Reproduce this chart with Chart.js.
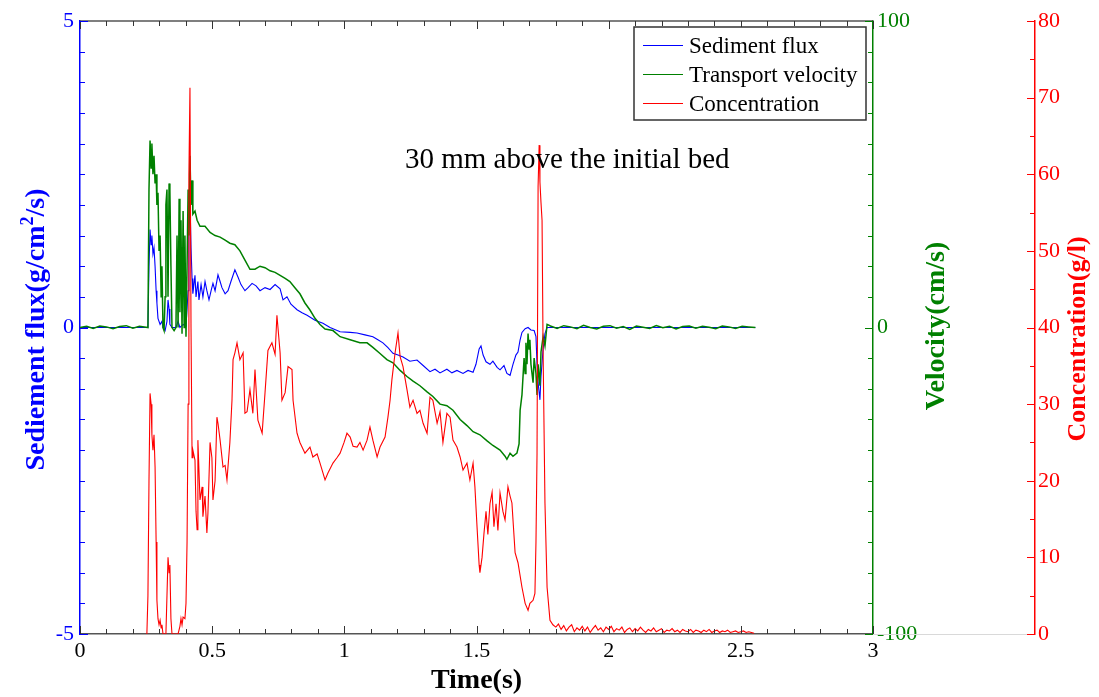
<!DOCTYPE html>
<html>
<head>
<meta charset="utf-8">
<title>Sediment flux, transport velocity and concentration</title>
<script src="https://cdn.jsdelivr.net/npm/chart.js@4.4.1/dist/chart.umd.min.js"></script>
<style>
  html, body { margin: 0; padding: 0; background: #fff; }
  #wrap { width: 1099px; height: 697px; position: relative; }
</style>
</head>
<body>
<div id="wrap"><canvas id="fluxChart"></canvas></div>
<script>
// Sediment flux (g/cm2/s) against time (s)
const tFlux = [0, 0.1, 0.2, 0.257, 0.261, 0.265, 0.269, 0.272, 0.276, 0.28, 0.284, 0.288, 0.291, 0.295, 0.303, 0.31, 0.314, 0.322, 0.329, 0.333, 0.337, 0.34, 0.348, 0.363, 0.371, 0.378, 0.39, 0.401, 0.409, 0.412, 0.416, 0.42, 0.424, 0.427, 0.435, 0.439, 0.446, 0.45, 0.458, 0.465, 0.473, 0.48, 0.488, 0.496, 0.503, 0.511, 0.522, 0.53, 0.537, 0.549, 0.56, 0.571, 0.586, 0.598, 0.609, 0.624, 0.636, 0.651, 0.666, 0.681, 0.7, 0.719, 0.738, 0.757, 0.768, 0.783, 0.798, 0.821, 0.84, 0.859, 0.889, 0.919, 0.946, 0.984, 1.022, 1.048, 1.078, 1.108, 1.127, 1.146, 1.165, 1.184, 1.203, 1.222, 1.248, 1.275, 1.298, 1.324, 1.343, 1.362, 1.388, 1.407, 1.426, 1.449, 1.468, 1.487, 1.498, 1.51, 1.517, 1.525, 1.536, 1.551, 1.562, 1.578, 1.589, 1.604, 1.615, 1.627, 1.638, 1.649, 1.657, 1.665, 1.672, 1.684, 1.695, 1.706, 1.718, 1.725, 1.729, 1.733, 1.74, 1.744, 1.752, 1.759, 1.767, 2.0, 2.3, 2.555];
const flux = [0, 0, 0, 0, 1.0, 1.6, 1.35, 1.5, 1.2, 1.3, 1.0, 0.6, 0.4, 0.15, 0.05, 0.1, 0, -0.05, 0.1, 0.45, 0.3, 0.05, 0, 0, 0.1, 0, 0.05, 0.02, 0.6, 1.5, 2.1, 1.3, 0.8, 0.55, 0.85, 0.5, 0.75, 0.45, 0.7, 0.5, 0.75, 0.6, 0.45, 0.6, 0.72, 0.6, 0.86, 0.75, 0.65, 0.55, 0.6, 0.75, 0.94, 0.82, 0.7, 0.6, 0.65, 0.72, 0.68, 0.6, 0.65, 0.62, 0.7, 0.63, 0.45, 0.5, 0.38, 0.29, 0.24, 0.2, 0.12, 0.07, 0, -0.07, -0.08, -0.09, -0.12, -0.15, -0.2, -0.25, -0.33, -0.42, -0.45, -0.48, -0.55, -0.53, -0.62, -0.72, -0.68, -0.74, -0.68, -0.74, -0.7, -0.75, -0.7, -0.73, -0.6, -0.35, -0.3, -0.45, -0.56, -0.6, -0.55, -0.65, -0.69, -0.62, -0.75, -0.78, -0.6, -0.45, -0.4, -0.2, -0.08, -0.02, 0, -0.04, -0.05, -0.15, -0.6, -0.9, -1.18, -0.8, -0.35, -0.1, 0, 0, 0, 0];

// Transport velocity (cm/s)
const tVel = [0, 0.025, 0.05, 0.075, 0.1, 0.125, 0.15, 0.175, 0.2, 0.225, 0.25, 0.257, 0.261, 0.265, 0.269, 0.272, 0.276, 0.28, 0.284, 0.288, 0.291, 0.295, 0.299, 0.303, 0.307, 0.31, 0.314, 0.318, 0.322, 0.325, 0.329, 0.333, 0.337, 0.34, 0.344, 0.348, 0.356, 0.363, 0.367, 0.371, 0.375, 0.378, 0.382, 0.386, 0.39, 0.394, 0.397, 0.401, 0.405, 0.409, 0.412, 0.416, 0.42, 0.424, 0.427, 0.435, 0.443, 0.454, 0.473, 0.492, 0.511, 0.53, 0.549, 0.567, 0.586, 0.605, 0.624, 0.643, 0.662, 0.681, 0.7, 0.719, 0.738, 0.757, 0.776, 0.794, 0.813, 0.832, 0.851, 0.87, 0.889, 0.908, 0.927, 0.957, 0.984, 1.022, 1.059, 1.086, 1.108, 1.135, 1.161, 1.184, 1.211, 1.237, 1.26, 1.286, 1.313, 1.335, 1.362, 1.388, 1.411, 1.438, 1.464, 1.487, 1.513, 1.54, 1.562, 1.589, 1.608, 1.615, 1.627, 1.638, 1.653, 1.661, 1.665, 1.672, 1.68, 1.684, 1.687, 1.691, 1.695, 1.699, 1.702, 1.706, 1.714, 1.718, 1.725, 1.729, 1.733, 1.74, 1.744, 1.752, 1.759, 1.767, 1.78, 1.805, 1.83, 1.855, 1.88, 1.905, 1.93, 1.955, 1.98, 2.005, 2.03, 2.055, 2.08, 2.105, 2.13, 2.155, 2.18, 2.205, 2.23, 2.255, 2.28, 2.305, 2.33, 2.355, 2.38, 2.405, 2.43, 2.455, 2.48, 2.505, 2.53, 2.555];
const vel = [0, 0.4, -0.3, 0.5, 0.2, -0.4, 0.3, 0.6, -0.2, 0.4, 0.1, 0, 45, 61, 52, 60, 50, 56, 47, 50, 40, 44, 25, 30, 10, 20, 0, -1, 10, 40, 45, 10, 47, 45, 20, 0, -1, 0, 30, 0, 42, 5, 35, -2, 38, 0, 30, -3, 20, 45, 30, 56, 40, 48, 37, 38, 35, 33, 33, 31, 30, 29.5, 28.5, 27.5, 27, 25, 22, 19, 19, 20, 19.5, 18.5, 18, 17, 16, 15, 13, 11, 8, 5.7, 3, 1, -0.5, -1, -3, -4, -5, -5, -6.5, -8.5, -10.5, -11.5, -14, -16, -17.5, -19, -21, -22.5, -25, -25.5, -27, -30, -32, -34, -35, -37, -38.5, -40, -42, -43, -41, -42, -41, -38, -27, -22, -10, -15, -5, -12, -2, -7, -4, -12, -18, -10, -15, -22, -12, -19, -8, -3, -6, 1, 0.5, -0.3, 0.6, 0.2, -0.4, 0.7, 0, -0.5, 0.4, 0.6, -0.2, 0.3, -0.6, 0.5, 0.1, -0.3, 0.6, -0.1, 0.4, -0.5, 0.3, 0.5, -0.2, 0.4, 0.1, -0.4, 0.5, 0.2, -0.3, 0.4, 0.2, 0];

// Concentration (g/l)
const tConc = [0.253, 0.257, 0.261, 0.265, 0.269, 0.272, 0.276, 0.28, 0.284, 0.288, 0.291, 0.295, 0.299, 0.303, 0.307, 0.31, 0.314, 0.325, 0.329, 0.333, 0.337, 0.34, 0.344, 0.348, 0.371, 0.378, 0.382, 0.386, 0.39, 0.397, 0.401, 0.405, 0.409, 0.412, 0.416, 0.42, 0.424, 0.427, 0.435, 0.439, 0.443, 0.446, 0.454, 0.462, 0.465, 0.473, 0.48, 0.484, 0.492, 0.499, 0.503, 0.511, 0.518, 0.522, 0.53, 0.541, 0.549, 0.556, 0.567, 0.575, 0.579, 0.586, 0.594, 0.605, 0.617, 0.624, 0.632, 0.643, 0.654, 0.662, 0.673, 0.689, 0.7, 0.711, 0.726, 0.738, 0.745, 0.757, 0.764, 0.776, 0.787, 0.802, 0.806, 0.821, 0.832, 0.851, 0.87, 0.881, 0.897, 0.908, 0.927, 0.938, 0.957, 0.972, 0.984, 0.999, 1.01, 1.022, 1.033, 1.048, 1.059, 1.071, 1.086, 1.097, 1.108, 1.124, 1.135, 1.154, 1.165, 1.173, 1.18, 1.192, 1.203, 1.211, 1.222, 1.237, 1.248, 1.26, 1.275, 1.286, 1.298, 1.313, 1.324, 1.335, 1.351, 1.362, 1.373, 1.388, 1.4, 1.411, 1.426, 1.438, 1.449, 1.464, 1.475, 1.487, 1.494, 1.502, 1.51, 1.513, 1.521, 1.528, 1.536, 1.543, 1.551, 1.559, 1.566, 1.574, 1.581, 1.589, 1.6, 1.608, 1.619, 1.627, 1.634, 1.646, 1.657, 1.672, 1.684, 1.695, 1.702, 1.714, 1.721, 1.725, 1.729, 1.733, 1.737, 1.74, 1.744, 1.748, 1.752, 1.759, 1.767, 1.778, 1.789, 1.8, 1.81, 1.82, 1.83, 1.84, 1.85, 1.86, 1.87, 1.88, 1.89, 1.9, 1.91, 1.92, 1.93, 1.94, 1.95, 1.96, 1.97, 1.98, 1.99, 2.0, 2.01, 2.02, 2.03, 2.04, 2.05, 2.06, 2.07, 2.08, 2.09, 2.1, 2.11, 2.12, 2.13, 2.14, 2.15, 2.16, 2.17, 2.18, 2.19, 2.2, 2.21, 2.22, 2.23, 2.24, 2.25, 2.26, 2.27, 2.28, 2.29, 2.3, 2.31, 2.32, 2.33, 2.34, 2.35, 2.36, 2.37, 2.38, 2.39, 2.4, 2.41, 2.42, 2.43, 2.44, 2.45, 2.46, 2.47, 2.48, 2.49, 2.5, 2.51, 2.52, 2.53, 2.54, 2.55];
const conc = [0, 5, 20, 31.4, 30, 26, 24, 26, 21.8, 12, 4.4, 2, 1.2, 1.8, 0.8, 1.2, 0, 0, 5, 10, 8, 9, 2, 0, 0, 1, 2, 1.2, 2.2, 2, 4, 12, 30, 60, 71.3, 40, 23, 24, 22.7, 16, 13.6, 25.3, 17.5, 19.2, 15.3, 18, 13.2, 15.8, 25, 23, 17.5, 20, 28.3, 27.5, 25.3, 21.8, 22, 20.1, 25, 30.5, 35.8, 36.7, 38, 35.8, 36.7, 28.8, 29, 31.9, 28.8, 34.5, 27.9, 26.2, 31.5, 37, 38, 36.5, 41.6, 36.7, 30.5, 31.5, 34.9, 34.5, 30.5, 26.2, 25, 23.6, 24.4, 23.1, 23.5, 22.3, 20.1, 21, 22.3, 23, 23.6, 25, 26.2, 25.7, 24.5, 24.4, 25, 24, 25.3, 27, 25.3, 23.1, 24.4, 25.7, 28.3, 30.5, 33.2, 36.7, 39.3, 36.2, 34.9, 31.9, 29.6, 30.5, 28.8, 29.2, 27.5, 26.2, 30.9, 30.5, 27.5, 29, 25, 28.8, 28.3, 25.3, 24.4, 23.1, 21.4, 22.3, 20.1, 22.3, 19.2, 14, 9, 8, 10, 13, 16, 13, 17, 18.5, 14, 17, 13.5, 18.4, 16, 14.9, 19.2, 18, 17.1, 10.6, 9.3, 6.1, 4, 3.1, 4, 4.4, 5.3, 12, 23.6, 58.4, 63.8, 59, 56.3, 54, 36.7, 17.1, 6.1, 1.8, 1.2, 0.9, 1.3, 0.6, 1.1, 0.4, 0.9, 1.2, 0.3, 0.8, 0.5, 1.0, 0.4, 0.9, 0.2, 0.7, 1.1, 0.5, 0.8, 0.3, 0.9, 0.6, 1.0, 0.3, 0.7, 0.5, 0.9, 0.2, 0.6, 0.8, 0.3, 0.7, 0.4, 0.9, 0.5, 0.2, 0.6, 0.4, 0.8, 0.3, 0.5, 0.7, 0.2, 0.5, 0.4, 0.7, 0.3, 0.5, 0.2, 0.6, 0.4, 0.3, 0.6, 0.2, 0.5, 0.4, 0.2, 0.5, 0.3, 0.6, 0.2, 0.4, 0.5, 0.2, 0.4, 0.3, 0.5, 0.2, 0.3, 0.4, 0.2, 0.3, 0.4, 0.2, 0.3, 0.2, 0.1];

// axis ranges
const timeRange = [0, 3];
const fluxRange = [-5, 5];
const velRange = [-100, 100];
const concRange = [0, 80];

const BLUE = '#0000ff';
const GREEN = '#008000';
const RED = '#ff0000';
const SERIF = '"Liberation Serif", "Times New Roman", serif';

Chart.defaults.font.family = SERIF;
Chart.defaults.color = '#000';

function pts(xs, ys) {
    return xs.map((x, i) => ({ x: x, y: ys[i] }));
}

// plain number labels: 1 rather than 1.0
function plainLabel(value) {
    return String(parseFloat(Number(value).toFixed(2)));
}

// tick marks pointing into the plot
function drawTicks(ctx, scale, from, to, step, majorEvery, x0, y0, dir, horizontal, color) {
    ctx.strokeStyle = color;
    ctx.lineWidth = 1;
    const n = Math.round((to - from) / step);
    for (let i = 0; i <= n; i++) {
        const v = from + i * step;
        const p = Math.round(scale.getPixelForValue(v)) + 0.5;
        const len = (i % majorEvery === 0) ? 8 : 5;
        ctx.beginPath();
        if (horizontal) {
            ctx.moveTo(p, y0);
            ctx.lineTo(p, y0 + dir * len);
        } else {
            ctx.moveTo(x0, p);
            ctx.lineTo(x0 + dir * len, p);
        }
        ctx.stroke();
    }
}

const axisDecor = {
    id: 'axisDecor',
    afterDraw(chart) {
        const ctx = chart.ctx;
        const a = chart.chartArea;
        const sx = chart.scales.x, sf = chart.scales.yFlux, sv = chart.scales.yVel, sc = chart.scales.yConc;
        ctx.save();

        // top frame
        ctx.strokeStyle = '#555';
        ctx.lineWidth = 1.5;
        ctx.beginPath();
        ctx.moveTo(a.left, a.top);
        ctx.lineTo(a.right, a.top);
        ctx.stroke();
        // faint base line under the right axes
        ctx.strokeStyle = '#d9d9d9';
        ctx.lineWidth = 1;
        ctx.beginPath();
        ctx.moveTo(a.right, a.bottom + 0.5);
        ctx.lineTo(sc.left, a.bottom + 0.5);
        ctx.stroke();

        drawTicks(ctx, sx, 0, 3, 0.1, 5, 0, a.bottom, -1, true, '#333');
        drawTicks(ctx, sx, 0, 3, 0.1, 5, 0, a.top, 1, true, '#333');
        drawTicks(ctx, sf, -5, 5, 0.5, 10, a.left, 0, 1, false, BLUE);
        drawTicks(ctx, sv, -100, 100, 10, 10, a.right, 0, -1, false, GREEN);
        drawTicks(ctx, sc, 0, 80, 5, 2, sc.left, 0, -1, false, RED);

        // axis titles
        ctx.font = 'bold 28px ' + SERIF;
        ctx.fillStyle = '#000';
        ctx.textAlign = 'center';
        ctx.textBaseline = 'middle';
        ctx.fillText('Time(s)', (a.left + a.right) / 2, 681);

        // left title with the superscript in cm2
        const p1 = 'Sediement flux(g/cm', p2 = '2', p3 = '/s)';
        ctx.save();
        ctx.translate(44, (a.top + a.bottom) / 2 + 2);
        ctx.rotate(-Math.PI / 2);
        ctx.fillStyle = BLUE;
        ctx.textAlign = 'left';
        ctx.textBaseline = 'alphabetic';
        ctx.font = 'bold 28px ' + SERIF;
        const w1 = ctx.measureText(p1).width, w3 = ctx.measureText(p3).width;
        ctx.font = 'bold 18px ' + SERIF;
        const w2 = ctx.measureText(p2).width;
        let x = -(w1 + w2 + w3) / 2;
        ctx.font = 'bold 28px ' + SERIF;
        ctx.fillText(p1, x, 0);
        x += w1;
        ctx.font = 'bold 18px ' + SERIF;
        ctx.fillText(p2, x, -11);
        x += w2;
        ctx.font = 'bold 28px ' + SERIF;
        ctx.fillText(p3, x, 0);
        ctx.restore();

        ctx.save();
        ctx.translate(937, 326);
        ctx.rotate(-Math.PI / 2);
        ctx.fillStyle = GREEN;
        ctx.textAlign = 'center';
        ctx.textBaseline = 'middle';
        ctx.font = 'bold 28px ' + SERIF;
        ctx.fillText('Velocity(cm/s)', 0, 0);
        ctx.restore();

        ctx.save();
        ctx.translate(1078, 339);
        ctx.rotate(-Math.PI / 2);
        ctx.fillStyle = RED;
        ctx.textAlign = 'center';
        ctx.textBaseline = 'middle';
        ctx.font = 'bold 26px ' + SERIF;
        ctx.fillText('Concentration(g/l)', 0, 0);
        ctx.restore();

        // annotation
        ctx.font = '29px ' + SERIF;
        ctx.fillStyle = '#000';
        ctx.textAlign = 'left';
        ctx.textBaseline = 'middle';
        ctx.fillText('30 mm above the initial bed', 405, 160);

        // legend box
        const lx = 634, ly = 27, lw = 232, lh = 93;
        ctx.fillStyle = '#fff';
        ctx.fillRect(lx, ly, lw, lh);
        ctx.strokeStyle = '#333';
        ctx.lineWidth = 1.5;
        ctx.strokeRect(lx, ly, lw, lh);
        const entries = [chart.data.datasets[2], chart.data.datasets[1], chart.data.datasets[0]];
        ctx.font = '23px ' + SERIF;
        ctx.textBaseline = 'middle';
        entries.forEach((ds, i) => {
            const yy = 45.5 + i * 29;
            ctx.strokeStyle = ds.borderColor;
            ctx.lineWidth = 1;
            ctx.beginPath();
            ctx.moveTo(643, yy);
            ctx.lineTo(683, yy);
            ctx.stroke();
            ctx.fillStyle = '#000';
            ctx.fillText(ds.label, 689, yy + 1);
        });
        ctx.restore();
    }
};

new Chart(document.getElementById('fluxChart'), {
    type: 'line',
    data: {
        datasets: [
            { label: 'Concentration', data: pts(tConc, conc), yAxisID: 'yConc', borderColor: RED, borderWidth: 1.1, order: 0 },
            { label: 'Transport velocity', data: pts(tVel, vel), yAxisID: 'yVel', borderColor: GREEN, borderWidth: 1.5, order: 1 },
            { label: 'Sediment flux', data: pts(tFlux, flux), yAxisID: 'yFlux', borderColor: BLUE, borderWidth: 1.1, order: 2 }
        ]
    },
    options: {
        responsive: true,
        maintainAspectRatio: false,
        animation: false,
        devicePixelRatio: 1,
        layout: { padding: { top: 21, left: 0, right: 0, bottom: 0 } },
        elements: {
            line: { borderWidth: 1, tension: 0, fill: false },
            point: { radius: 0, hoverRadius: 0 }
        },
        plugins: { legend: { display: false }, tooltip: { enabled: false } },
        scales: {
            x: {
                type: 'linear',
                min: timeRange[0], max: timeRange[1],
                grid: { display: false, drawTicks: false },
                border: { display: true, color: '#555', width: 1.5 },
                ticks: { stepSize: 0.5, padding: 4, color: '#000', font: { size: 22 }, callback: plainLabel },
                afterFit(s) { s.height = 63; }
            },
            yFlux: {
                type: 'linear', position: 'left',
                min: fluxRange[0], max: fluxRange[1],
                grid: { display: false, drawTicks: false },
                border: { display: true, color: BLUE, width: 1.5 },
                ticks: { stepSize: 5, padding: 6, color: BLUE, font: { size: 22 }, callback: plainLabel },
                afterFit(s) { s.width = 80; }
            },
            yVel: {
                type: 'linear', position: 'right', weight: 1,
                min: velRange[0], max: velRange[1],
                grid: { display: false, drawTicks: false },
                border: { display: true, color: GREEN, width: 1.5 },
                ticks: { stepSize: 100, padding: 4, color: GREEN, font: { size: 22 }, callback: plainLabel },
                afterFit(s) { s.width = 162; }
            },
            yConc: {
                type: 'linear', position: 'right', weight: 2,
                min: concRange[0], max: concRange[1],
                grid: { display: false, drawTicks: false },
                border: { display: true, color: RED, width: 1.5 },
                ticks: { stepSize: 10, padding: 3, color: RED, font: { size: 22 }, callback: plainLabel },
                afterFit(s) { s.width = 64; }
            }
        }
    },
    plugins: [axisDecor]
});
</script>
</body>
</html>
